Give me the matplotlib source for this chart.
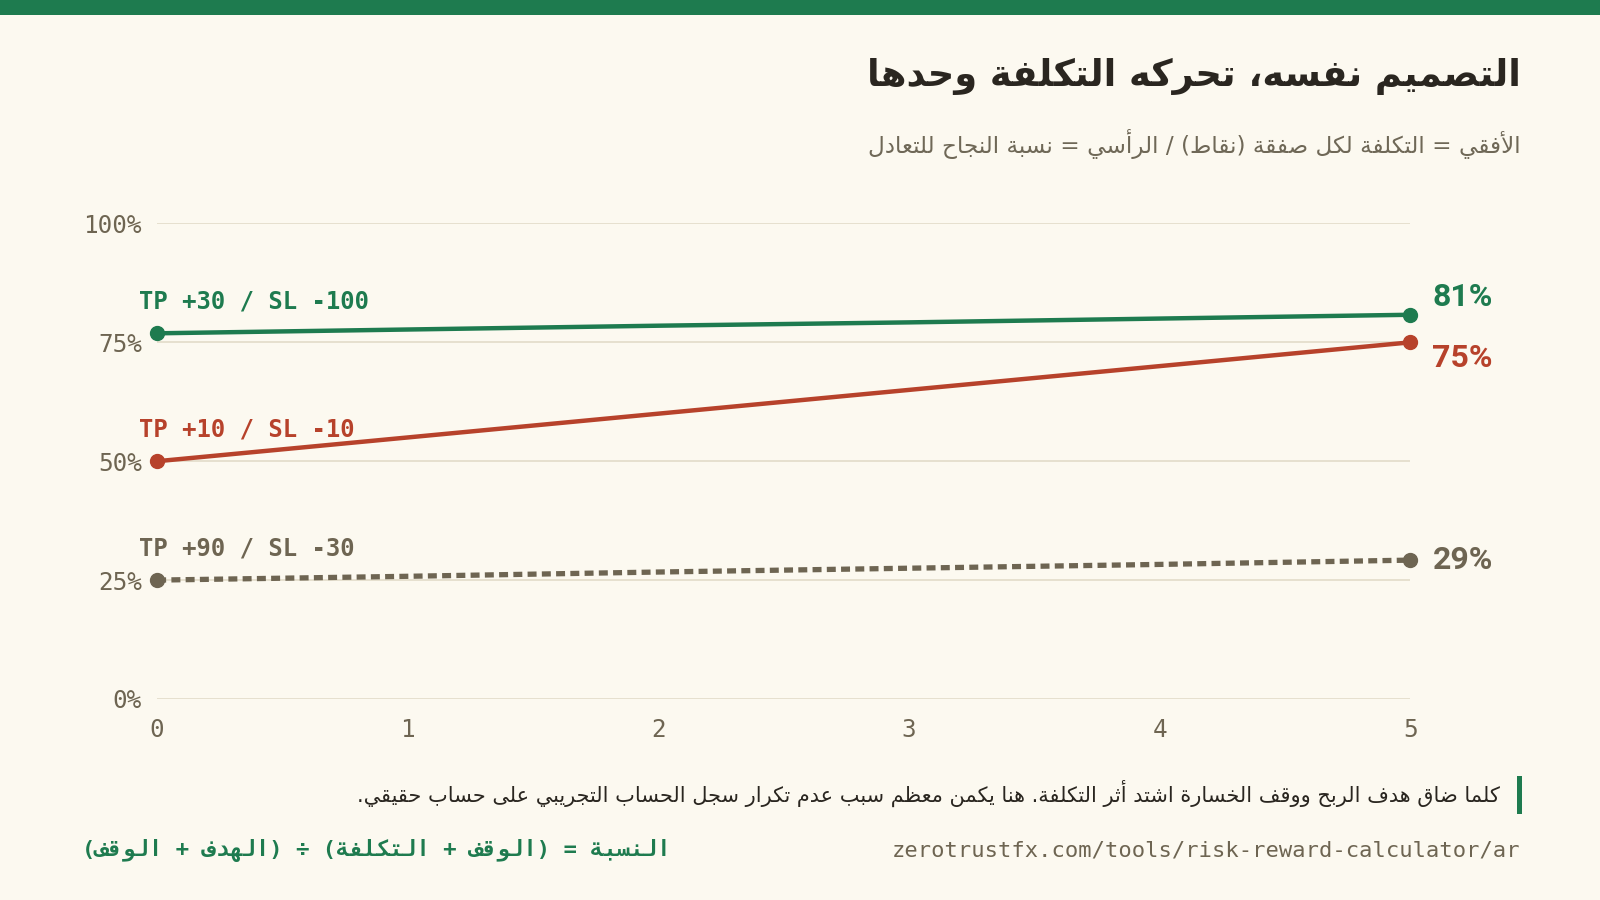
import re
import matplotlib
matplotlib.use("Agg")
import matplotlib.pyplot as plt

# ---------------- data ----------------
cost_points = [0, 1, 2, 3, 4, 5]
series_labels = ["TP +30 / SL -100", "TP +10 / SL -10", "TP +90 / SL -30"]
green_vals = [76.9, 77.7, 78.5, 79.2, 80.0, 80.8]
red_vals = [50.0, 55.0, 60.0, 65.0, 70.0, 75.0]
gray_vals = [25.0, 25.8, 26.7, 27.5, 28.3, 29.2]
y_ticks = [0, 25, 50, 75, 100]
y_tick_labels = ["0%", "25%", "50%", "75%", "100%"]
x_ticks = [0, 1, 2, 3, 4, 5]

title = "التصميم نفسه، تحركه التكلفة وحدها"
subtitle = "الأفقي = التكلفة لكل صفقة (نقاط) / الرأسي = نسبة النجاح للتعادل"
caption = "كلما ضاق هدف الربح ووقف الخسارة اشتد أثر التكلفة. هنا يكمن معظم سبب عدم تكرار سجل الحساب التجريبي على حساب حقيقي."
formula = "النسبة = (الوقف + التكلفة) ÷ (الهدف + الوقف)"
url = "zerotrustfx.com/tools/risk-reward-calculator/ar"

# ---------------- colours ----------------
BG = "#fcf9f0"
GREEN = "#1e7b4f"
RED = "#b7422b"
GRAY = "#6e6552"
GRID = "#e2dbc9"
DARK = "#2a2620"
SUB = "#6f6857"

# ---------------- minimal Arabic shaping ----------------
FORMS = {
    '\u0621': ('\uFE80',),
    '\u0622': ('\uFE81', '\uFE82'),
    '\u0623': ('\uFE83', '\uFE84'),
    '\u0624': ('\uFE85', '\uFE86'),
    '\u0625': ('\uFE87', '\uFE88'),
    '\u0626': ('\uFE89', '\uFE8A', '\uFE8B', '\uFE8C'),
    '\u0627': ('\uFE8D', '\uFE8E'),
    '\u0628': ('\uFE8F', '\uFE90', '\uFE91', '\uFE92'),
    '\u0629': ('\uFE93', '\uFE94'),
    '\u062A': ('\uFE95', '\uFE96', '\uFE97', '\uFE98'),
    '\u062B': ('\uFE99', '\uFE9A', '\uFE9B', '\uFE9C'),
    '\u062C': ('\uFE9D', '\uFE9E', '\uFE9F', '\uFEA0'),
    '\u062D': ('\uFEA1', '\uFEA2', '\uFEA3', '\uFEA4'),
    '\u062E': ('\uFEA5', '\uFEA6', '\uFEA7', '\uFEA8'),
    '\u062F': ('\uFEA9', '\uFEAA'),
    '\u0630': ('\uFEAB', '\uFEAC'),
    '\u0631': ('\uFEAD', '\uFEAE'),
    '\u0632': ('\uFEAF', '\uFEB0'),
    '\u0633': ('\uFEB1', '\uFEB2', '\uFEB3', '\uFEB4'),
    '\u0634': ('\uFEB5', '\uFEB6', '\uFEB7', '\uFEB8'),
    '\u0635': ('\uFEB9', '\uFEBA', '\uFEBB', '\uFEBC'),
    '\u0636': ('\uFEBD', '\uFEBE', '\uFEBF', '\uFEC0'),
    '\u0637': ('\uFEC1', '\uFEC2', '\uFEC3', '\uFEC4'),
    '\u0638': ('\uFEC5', '\uFEC6', '\uFEC7', '\uFEC8'),
    '\u0639': ('\uFEC9', '\uFECA', '\uFECB', '\uFECC'),
    '\u063A': ('\uFECD', '\uFECE', '\uFECF', '\uFED0'),
    '\u0641': ('\uFED1', '\uFED2', '\uFED3', '\uFED4'),
    '\u0642': ('\uFED5', '\uFED6', '\uFED7', '\uFED8'),
    '\u0643': ('\uFED9', '\uFEDA', '\uFEDB', '\uFEDC'),
    '\u0644': ('\uFEDD', '\uFEDE', '\uFEDF', '\uFEE0'),
    '\u0645': ('\uFEE1', '\uFEE2', '\uFEE3', '\uFEE4'),
    '\u0646': ('\uFEE5', '\uFEE6', '\uFEE7', '\uFEE8'),
    '\u0647': ('\uFEE9', '\uFEEA', '\uFEEB', '\uFEEC'),
    '\u0648': ('\uFEED', '\uFEEE'),
    '\u0649': ('\uFEEF', '\uFEF0'),
    '\u064A': ('\uFEF1', '\uFEF2', '\uFEF3', '\uFEF4'),
}
LAM_ALEF = {
    '\u0627': ('\uFEFB', '\uFEFC'),
    '\u0623': ('\uFEF7', '\uFEF8'),
    '\u0625': ('\uFEF9', '\uFEFA'),
    '\u0622': ('\uFEF5', '\uFEF6'),
}
MIRROR = {'(': ')', ')': '(', '[': ']', ']': '['}


def shape(text):
    tokens = []
    i = 0
    while i < len(text):
        c = text[i]
        if c == '\u0644' and i + 1 < len(text) and text[i + 1] in LAM_ALEF:
            tokens.append(LAM_ALEF[text[i + 1]])
            i += 2
            continue
        tokens.append(FORMS.get(c, c))
        i += 1
    out = []
    for k, t in enumerate(tokens):
        if isinstance(t, str):
            out.append(t)
            continue
        prev = tokens[k - 1] if k > 0 else None
        nxt = tokens[k + 1] if k + 1 < len(tokens) else None
        cp = isinstance(prev, tuple) and len(prev) == 4 and len(t) >= 2
        cn = len(t) == 4 and isinstance(nxt, tuple) and len(nxt) >= 2
        if cp and cn:
            out.append(t[3])
        elif cp:
            out.append(t[1])
        elif cn:
            out.append(t[2])
        else:
            out.append(t[0])
    return ''.join(out)


def rtl(text):
    s = shape(text)
    s = ''.join(MIRROR.get(c, c) for c in reversed(s))
    # restore order of embedded LTR runs
    s = re.sub(r'[A-Za-z0-9]+', lambda m: m.group(0)[::-1], s)
    return s


AR = ['DejaVu Sans']
MONO_AR = ['DejaVu Sans Mono', 'DejaVu Sans']
MONO = ['DejaVu Sans Mono']

# ---------------- figure ----------------
W, H = 1568.0, 882.0


def fx(x):
    return x / W


def fy(y):
    return 1 - y / H


fig = plt.figure(figsize=(16, 9), dpi=100)
fig.patch.set_facecolor(BG)

# top bar
fig.add_artist(plt.Rectangle((0, fy(15)), 1, 15 / H, transform=fig.transFigure,
                             facecolor=GREEN, edgecolor='none'))

ax = fig.add_axes([fx(154), fy(685), fx(1382) - fx(154), fy(219) - fy(685)])
ax.set_facecolor(BG)
ax.set_xlim(0, 5)
ax.set_ylim(0, 100)
for sp in ax.spines.values():
    sp.set_visible(False)

for yt in y_ticks:
    ax.axhline(yt, color=GRID, lw=1.2, zorder=1)

ax.set_yticks(y_ticks)
ax.set_yticklabels(y_tick_labels)
ax.set_xticks(x_ticks)
ax.set_xticklabels([str(v) for v in x_ticks])
ax.tick_params(axis='both', length=0, labelcolor=GRAY, labelsize=17.5)
ax.tick_params(axis='y', pad=11)
ax.tick_params(axis='x', pad=14)
for lab in ax.get_xticklabels() + ax.get_yticklabels():
    lab.set_family(MONO)

series = [
    (green_vals, GREEN, '-', 13),
    (red_vals, RED, '-', -11.5),
    (gray_vals, GRAY, '--', 0),
]
for (vals, col, ls, dy), lab in zip(series, series_labels):
    line, = ax.plot(cost_points, vals, color=col, lw=3.2 if ls == '-' else 3.8,
                    ls=ls, marker='o', markersize=10, markevery=[0, len(vals) - 1],
                    clip_on=False, zorder=3, solid_capstyle='round')
    if ls == '--':
        line.set_dashes((1.7, 1.0))
        line.set_dash_capstyle('butt')
    ax.annotate(lab, xy=(cost_points[0], vals[0]), xytext=(-13, 23),
                textcoords='offset points', ha='left', va='center',
                fontsize=17.2, fontweight='bold', color=col, family=MONO,
                annotation_clip=False)
    ax.annotate(f"{round(vals[-1])}%", xy=(cost_points[-1], vals[-1]),
                xytext=(16, dy), textcoords='offset points', ha='left', va='center',
                fontsize=23, fontweight='bold', color=col, family=['Roboto', 'DejaVu Sans'],
                annotation_clip=False)

# titles
fig.text(fx(1490), fy(75), rtl(title), ha='right', va='center', fontsize=26.5,
         fontweight='bold', color=DARK, family=AR)
fig.text(fx(1490), fy(141), rtl(subtitle), ha='right', va='center', fontsize=16.7,
         color=SUB, family=AR)

# caption with accent bar
fig.add_artist(plt.Rectangle((fx(1487), fy(798)), 5 / W, 38 / H, transform=fig.transFigure,
                             facecolor=GREEN, edgecolor='none'))
fig.text(fx(1470), fy(778), rtl(caption), ha='right', va='center', fontsize=15,
         color=DARK, family=AR)

# footer
fig.text(fx(80), fy(833), rtl(formula), ha='left', va='center', fontsize=16,
         fontweight='bold', color=GREEN, family=MONO_AR)
fig.text(fx(1490), fy(833), url, ha='right', va='center', fontsize=15.9,
         color=GRAY, family=MONO)

fig.savefig("out.png", dpi=100, facecolor=BG)
